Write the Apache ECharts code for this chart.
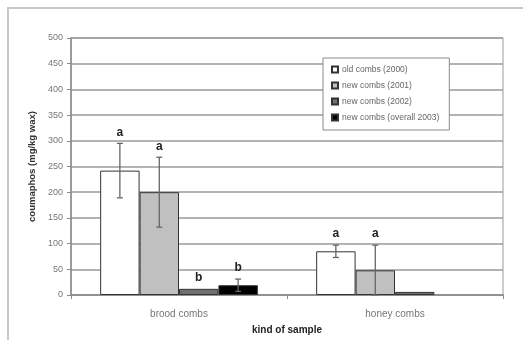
<!DOCTYPE html>
<html>
<head>
<meta charset="utf-8">
<script src="https://cdn.jsdelivr.net/npm/echarts@6/dist/echarts.min.js"></script>
<style>
  html, body { margin: 0; padding: 0; background: #fff; }
  #chart { width: 523px; height: 340px; }
</style>
</head>
<body>
<div id="chart"></div>
<script>
// Sample groups on the x axis
const categories = ['brood combs', 'honey combs'];

// Series names (legend entries)
const seriesNames = ['old combs (2000)', 'new combs (2001)', 'new combs (2002)', 'new combs (overall 2003)'];

// Mean concentrations per series, one value per category
const oldCombs2000 = [242, 85];
const newCombs2001 = [200, 48];
const newCombs2002 = [12, 6];
const newCombsOverall2003 = [19, null];

// Standard deviations (error bars) per series
const errOld2000 = [53, 12];
const errNew2001 = [68, 49];
const errNew2002 = [0, 0];
const errNew2003 = [12, null];

// Significance letters above the bars
const lettersOld2000 = ['a', 'a'];
const lettersNew2001 = ['a', 'a'];
const lettersNew2002 = ['b', ''];
const lettersNew2003 = ['b', ''];

// Y axis tick values
const yTicks = [0, 50, 100, 150, 200, 250, 300, 350, 400, 450, 500];

const values = [oldCombs2000, newCombs2001, newCombs2002, newCombsOverall2003];
const errors = [errOld2000, errNew2001, errNew2002, errNew2003];
const letters = [lettersOld2000, lettersNew2001, lettersNew2002, lettersNew2003];

const fills = ['#ffffff', '#c0c0c0', '#707070', '#000000'];
const CAT_GAP = 0.27;
const N = values.length;
const FONT = 'Arial, "Liberation Sans", sans-serif';

const chart = echarts.init(document.getElementById('chart'));

const barSeries = values.map((vals, i) => ({
  name: seriesNames[i],
  type: 'bar',
  data: vals,
  barGap: '0%',
  barCategoryGap: (CAT_GAP * 100) + '%',
  itemStyle: { color: fills[i], borderColor: '#333', borderWidth: 1 },
  z: 2
}));

// Error bars and letters drawn per series, offset to each bar's centre
const errSeries = values.map((vals, i) => ({
  type: 'custom',
  name: 'err' + i,
  z: 5,
  data: vals.map((v, c) => [c, v, errors[i][c]]),
  renderItem: function (params, api) {
    const c = api.value(0);
    const v = api.value(1);
    if (v == null || isNaN(v)) return null;
    const e = api.value(2) || 0;
    const letter = letters[i][c];
    const catW = api.size([1, 0])[0];
    const barW = catW * (1 - CAT_GAP) / N;
    const center = api.coord([c, v]);
    const x = center[0] + (i - (N - 1) / 2) * barW;
    const top = api.coord([c, v + e])[1];
    const bot = api.coord([c, Math.max(v - e, 0)])[1];
    const children = [];
    if (e > 0) {
      const st = { stroke: '#666', lineWidth: 1.3 };
      children.push({ type: 'line', shape: { x1: x, y1: top, x2: x, y2: bot }, style: st });
      children.push({ type: 'line', shape: { x1: x - 3, y1: top, x2: x + 3, y2: top }, style: st });
      children.push({ type: 'line', shape: { x1: x - 3, y1: bot, x2: x + 3, y2: bot }, style: st });
    }
    if (letter) {
      children.push({
        type: 'text',
        style: {
          x: x, y: top - 5, text: letter,
          textAlign: 'center', textVerticalAlign: 'bottom',
          font: 'bold 12px ' + FONT, fill: '#222'
        }
      });
    }
    return { type: 'group', children: children };
  }
}));

chart.setOption({
  animation: false,
  backgroundColor: '#fff',
  graphic: [
    { type: 'polyline', shape: { points: [[8, 340], [8, 8], [523, 8]] },
      style: { stroke: '#c8c8c8', lineWidth: 2, fill: null }, z: 0 }
  ],
  grid: {
    left: 71, right: 20, top: 38, bottom: 38,
    show: true, borderColor: '#9a9a9a', borderWidth: 1, backgroundColor: '#fff'
  },
  legend: {
    orient: 'vertical',
    left: 323, top: 58,
    padding: [7, 10, 8, 8],
    itemGap: 7,
    itemWidth: 6, itemHeight: 6,
    icon: 'rect',
    backgroundColor: '#fff',
    borderColor: '#8a8a8a', borderWidth: 1,
    data: seriesNames,
    textStyle: { fontSize: 8.5, color: '#666', fontFamily: FONT, padding: [0, 0, 0, -1] }
  },
  xAxis: {
    type: 'category',
    data: categories,
    name: 'kind of sample',
    nameLocation: 'middle',
    nameGap: 30,
    nameTextStyle: { fontWeight: 'bold', fontSize: 10, color: '#222', fontFamily: FONT },
    axisLine: { lineStyle: { color: '#8a8a8a', width: 1.5 } },
    axisTick: { show: true, length: 4, lineStyle: { color: '#8a8a8a' } },
    axisLabel: { fontSize: 10, color: '#777', margin: 14, fontFamily: FONT }
  },
  yAxis: {
    type: 'value',
    min: yTicks[0], max: yTicks[yTicks.length - 1], interval: yTicks[1] - yTicks[0],
    name: 'coumaphos (mg/kg wax)',
    nameLocation: 'middle',
    nameGap: 34,
    nameTextStyle: { fontWeight: 'bold', fontSize: 9.5, color: '#333', fontFamily: FONT },
    axisLine: { show: true, lineStyle: { color: '#8a8a8a', width: 1.5 } },
    axisTick: { show: true, length: 4, lineStyle: { color: '#8a8a8a' } },
    axisLabel: { fontSize: 9, color: '#777', margin: 8, fontFamily: FONT },
    splitLine: { lineStyle: { color: '#9a9a9a', width: 1.5 } }
  },
  series: barSeries.concat(errSeries)
});
</script>
</body>
</html>
